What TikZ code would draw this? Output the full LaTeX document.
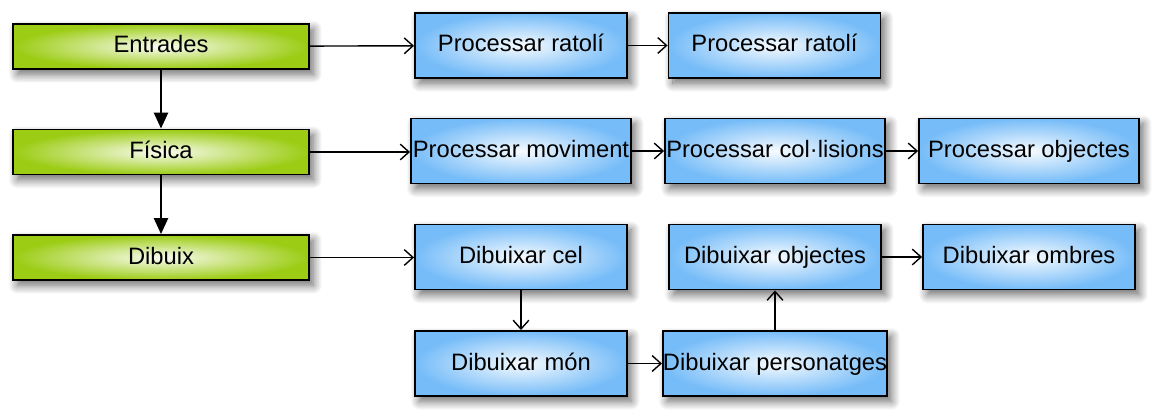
\documentclass[tikz,border=0pt]{standalone}
\usepackage{fontspec}
\setmainfont{Liberation Sans}
\usetikzlibrary{arrows.meta,shadows.blur}
\definecolor{verdcaixa}{RGB}{156,204,20}
\definecolor{blaucaixa}{RGB}{118,188,248}
\begin{document}
\begin{tikzpicture}[x=0.02cm, y=-0.02cm,
		caixa/.style={draw=black, line width=1.1pt, inner sep=0pt, font=\fontsize{13.5}{16}\selectfont,
			text height=1.85ex, text depth=0.45ex,
			blur shadow={shadow xshift=2.5pt, shadow yshift=-3pt, shadow blur radius=5pt, shadow blur steps=12, shadow opacity=60}},
		fase/.style={caixa, minimum width=5.92cm, minimum height=0.9cm,
			inner color=verdcaixa!6, outer color=verdcaixa},
		tasca/.style={caixa, minimum width=4.24cm, minimum height=1.3cm,
			inner color=blaucaixa!6, outer color=blaucaixa},
		ampla/.style={tasca, minimum width=4.4cm},
		fletxa/.style={line width=0.8pt, -{Straight Barb[length=5pt,width=9pt]}},
		baixa/.style={line width=1.1pt, -{Triangle[length=9pt,width=8pt]}}]
		\useasboundingbox (0,0) rectangle (1152,409);
		% fases
		\node[fase] (entrades) at (161,46.5) {Entrades};
		\node[fase] (fisica) at (161,152) {Física};
		\node[fase] (dibuix) at (161,257.5) {Dibuix};
		% entrades
		\node[tasca] (ratoli) at (521,45.5) {Processar ratolí};
		\node[tasca] (ratolib) at (774.5,45.5) {Processar ratolí};
		% fisica
		\node[ampla] (moviment) at (521,151) {Processar moviment};
		\node[ampla] (colisions) at (775,151) {Processar col·lisions};
		\node[ampla] (objectes) at (1029,151) {Processar objectes};
		% dibuix
		\node[tasca] (cel) at (521,257) {Dibuixar cel};
		\node[tasca] (dobjectes) at (775,257) {Dibuixar objectes};
		\node[tasca] (ombres) at (1029,257) {Dibuixar ombres};
		\node[tasca] (mon) at (521,363.5) {Dibuixar món};
		\node[tasca, minimum width=4.48cm] (personatges) at (775,363.5) {Dibuixar personatges};
		% fletxes
		\draw[baixa] (entrades) -- (fisica);
		\draw[baixa] (fisica) -- (dibuix);
		\draw[fletxa] (entrades) -- (ratoli);
		\draw[fletxa] (ratoli) -- (ratolib);
		\draw[fletxa] (fisica.east) -- (moviment.west |- fisica.east);
		\draw[fletxa] (moviment) -- (colisions);
		\draw[fletxa] (colisions) -- (objectes);
		\draw[fletxa] (dibuix.east) -- (cel.west |- dibuix.east);
		\draw[fletxa] (cel) -- (mon);
		\draw[fletxa] (mon) -- (personatges);
		\draw[fletxa] (personatges) -- (dobjectes);
		\draw[fletxa] (dobjectes) -- (ombres);
	\end{tikzpicture}
\end{document}
